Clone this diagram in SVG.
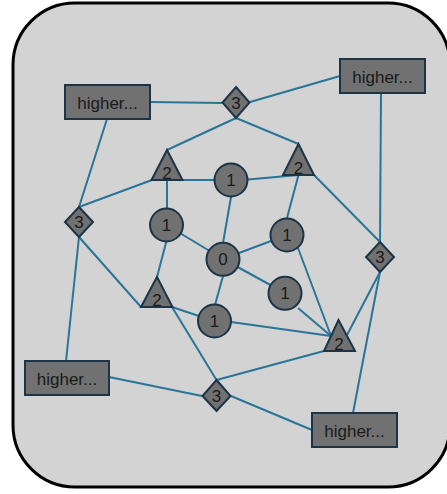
<svg xmlns="http://www.w3.org/2000/svg" width="447" height="494" viewBox="0 0 447 494">
<style>
.bg{fill:#d3d3d3;stroke:#000;stroke-width:3}
.e{stroke:#2a7597;stroke-width:2;fill:none}
.n{fill:#717171;stroke:#1c3447;stroke-width:2}
.t{font-family:"Liberation Sans",Arial,sans-serif;font-size:17px;fill:#1a1a1a;text-anchor:middle}
</style>
<rect class="bg" x="13" y="3" width="437" height="484" rx="62" ry="62"/>
<g id="connectors">
<line class="e" x1="150" y1="102" x2="222" y2="103"/>
<line class="e" x1="250" y1="102" x2="340" y2="76"/>
<line class="e" x1="236" y1="118" x2="167" y2="150"/>
<line class="e" x1="236" y1="118" x2="298.5" y2="144"/>
<line class="e" x1="107" y1="119" x2="79" y2="207"/>
<line class="e" x1="381" y1="93" x2="380" y2="242"/>
<line class="e" x1="152" y1="180" x2="79" y2="207"/>
<line class="e" x1="182" y1="180" x2="214" y2="180"/>
<line class="e" x1="248" y1="179.5" x2="298.5" y2="175"/>
<line class="e" x1="167" y1="180" x2="167" y2="208"/>
<line class="e" x1="231" y1="197" x2="223" y2="243"/>
<line class="e" x1="298.5" y1="175" x2="287" y2="218"/>
<line class="e" x1="314" y1="175" x2="380" y2="242"/>
<line class="e" x1="166.5" y1="225" x2="223" y2="259"/>
<line class="e" x1="166.5" y1="241" x2="157" y2="277"/>
<line class="e" x1="287" y1="235" x2="223" y2="259"/>
<line class="e" x1="298" y1="248" x2="331" y2="336"/>
<line class="e" x1="223" y1="259" x2="285" y2="293"/>
<line class="e" x1="298" y1="308" x2="331" y2="336"/>
<line class="e" x1="223" y1="276" x2="215" y2="305"/>
<line class="e" x1="172" y1="307" x2="214" y2="321"/>
<line class="e" x1="231" y1="322" x2="331" y2="336"/>
<line class="e" x1="380" y1="272" x2="347" y2="335"/>
<line class="e" x1="380" y1="272" x2="353" y2="413"/>
<line class="e" x1="79" y1="237" x2="66" y2="361"/>
<line class="e" x1="79" y1="237" x2="141" y2="307"/>
<line class="e" x1="172" y1="307" x2="216.5" y2="380"/>
<line class="e" x1="324" y1="351" x2="216.5" y2="380"/>
<line class="e" x1="109" y1="377" x2="202" y2="396"/>
<line class="e" x1="231" y1="396" x2="312" y2="430"/>
</g>
<g id="hTL"><rect class="n" x="65" y="85" width="85" height="34"/><text class="t" x="107.5" y="109">higher...</text></g>
<g id="hTR"><rect class="n" x="340" y="59" width="85" height="34"/><text class="t" x="382.5" y="83">higher...</text></g>
<g id="hBL"><rect class="n" x="25" y="361" width="84" height="34"/><text class="t" x="67" y="385">higher...</text></g>
<g id="hBR"><rect class="n" x="312" y="413" width="85" height="34"/><text class="t" x="354.5" y="437">higher...</text></g>
<g id="dTop"><polygon class="n" points="236,87 249.5,102.5 236,118 222.5,102.5"/><text class="t" x="236" y="109">3</text></g>
<g id="dLeft"><polygon class="n" points="79,207 93,222 79,237 65,222"/><text class="t" x="79" y="228">3</text></g>
<g id="dRight"><polygon class="n" points="380,242 394,257 380,272 366,257"/><text class="t" x="380" y="263">3</text></g>
<g id="dBot"><polygon class="n" points="216.5,380 230.5,396 216.5,411 202.5,396"/><text class="t" x="216.5" y="402">3</text></g>
<g id="tTL"><polygon class="n" points="167,150 182.5,180 151.5,180"/><text class="t" x="167" y="179">2</text></g>
<g id="tTR"><polygon class="n" points="298.5,144 314,175 283,175"/><text class="t" x="298.5" y="174">2</text></g>
<g id="tBL"><polygon class="n" points="157,277 172.5,307 141,307"/><text class="t" x="157" y="306">2</text></g>
<g id="tBR"><polygon class="n" points="338.5,320 355,351 324,351"/><text class="t" x="339" y="350">2</text></g>
<g id="c1Top"><circle class="n" cx="231" cy="180" r="16.5"/><text class="t" x="231" y="186">1</text></g>
<g id="c1Left"><circle class="n" cx="166.5" cy="225" r="16.5"/><text class="t" x="166.5" y="231">1</text></g>
<g id="c1Right"><circle class="n" cx="287" cy="235" r="16.5"/><text class="t" x="287" y="241">1</text></g>
<g id="c0"><circle class="n" cx="223" cy="259.3" r="16.5"/><text class="t" x="223" y="265.3">0</text></g>
<g id="c1LR"><circle class="n" cx="285" cy="293.3" r="16.5"/><text class="t" x="285" y="299.3">1</text></g>
<g id="c1Bot"><circle class="n" cx="214.5" cy="321" r="16.5"/><text class="t" x="214.5" y="327">1</text></g>
</svg>
